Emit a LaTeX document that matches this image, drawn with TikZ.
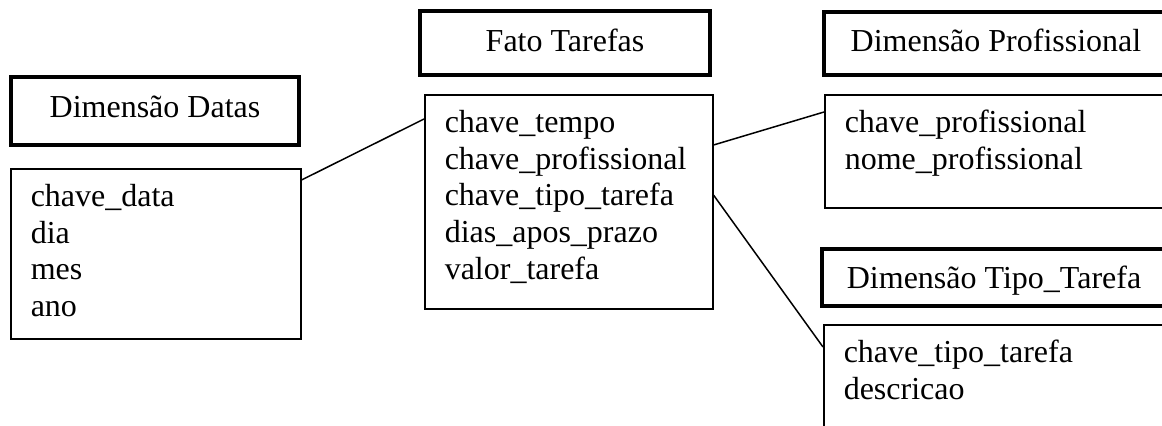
\documentclass[tikz,border=0pt]{standalone}
\usepackage{fontspec}
\setmainfont{Liberation Serif}
\usepackage{tikz}

\begin{document}
\begin{tikzpicture}[x=0.5pt,y=-0.5pt,
	every node/.style={font=\fontsize{16}{18.3}\selectfont},
	titulo/.style={draw,line width=2pt,inner sep=0pt,text height=11pt,text depth=5pt},
	campos/.style={draw,line width=0.75pt,anchor=north west,inner xsep=10pt,inner ysep=0pt,align=left,text height=19pt}]
			\useasboundingbox (0,0) rectangle (1162,425);
			\clip (0,0) rectangle (1162,425);
			\node[titulo,minimum width=144pt,minimum height=34pt] (tdatas) at (155,111) {Dimensão Datas};
			\node[campos,text width=125pt,text depth=66pt] (datas) at (10,168) {chave\_data\\dia\\mes\\ano};
			\node[titulo,minimum width=145pt,minimum height=32pt,text height=12pt,text depth=4pt] (tfato) at (565,43) {Fato Tarefas};
			\node[campos,text width=124pt,text depth=88pt] (fato) at (424,94) {chave\_tempo\\chave\_profissional\\chave\_tipo\_tarefa\\dias\_apos\_prazo\\valor\_tarefa};
			\node[titulo,minimum width=172pt,minimum height=31.5pt,text height=11.5pt,text depth=4pt] (tprof) at (996,43.5) {Dimensão Profissional};
			\node[campos,text width=155pt,text depth=37.5pt] (prof) at (824,94) {chave\_profissional\\nome\_profissional};
			\node[titulo,minimum width=172pt,minimum height=28.5pt,text height=13pt,text depth=2.5pt] (ttipo) at (994,277.5) {Dimensão Tipo\_Tarefa};
			\node[campos,text width=155pt,text depth=60pt] (tipo) at (823,324) {chave\_tipo\_tarefa\\descricao};
			\draw[line width=0.75pt] ([yshift=-6pt]datas.north east) -- ([yshift=-12.5pt]fato.north west);
			\draw[line width=0.75pt] ([yshift=-25.5pt]fato.north east) -- ([yshift=-9pt]prof.north west);
			\draw[line width=0.75pt] ([yshift=-50.5pt]fato.north east) -- ([yshift=-11.5pt]tipo.north west);
		\end{tikzpicture}
\end{document}
